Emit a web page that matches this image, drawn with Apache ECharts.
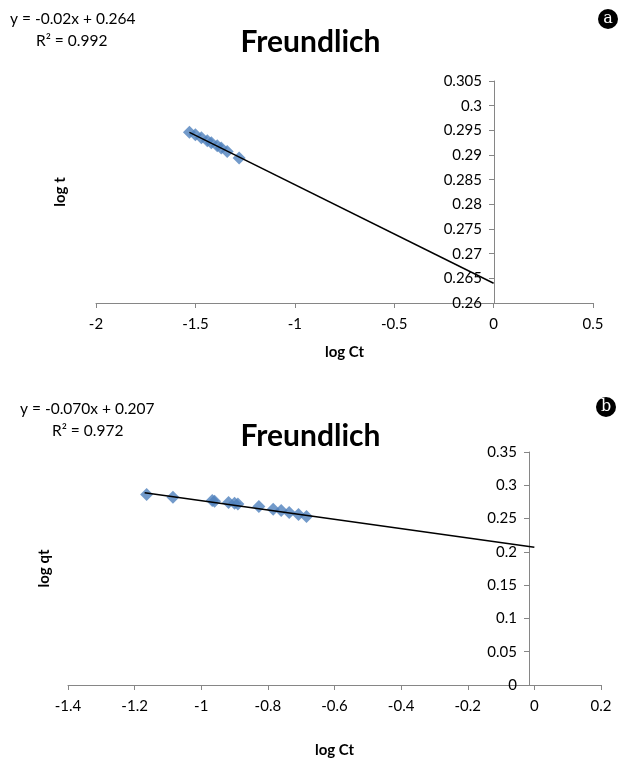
<!DOCTYPE html>
<html><head><meta charset="utf-8">
<script src="https://cdn.jsdelivr.net/npm/echarts@6/dist/echarts.min.js"></script>
<style>html,body{margin:0;padding:0;background:#fff}#c{width:621px;height:760px}</style>
</head><body><div id="c"></div>
<script>
// Chart a data
const aX = [-1.53, -1.50, -1.47, -1.44, -1.42, -1.39, -1.37, -1.34, -1.28];
const aY = [0.2946, 0.2941, 0.2935, 0.2929, 0.2925, 0.2919, 0.2914, 0.2907, 0.2894];
const aSlope = -0.02, aIntercept = 0.264;
const aTrendX = [-1.53, 0];
const aXTicks = [-2, 0.5, 0.5];   // min, max, interval
const aYTicks = [0.26, 0.305, 0.005];
// Chart b data
const bX = [-1.164, -1.085, -0.967, -0.960, -0.918, -0.900, -0.890, -0.827, -0.784, -0.760, -0.736, -0.708, -0.684];
const bY = [0.286, 0.282, 0.277, 0.276, 0.274, 0.273, 0.272, 0.268, 0.264, 0.262, 0.259, 0.256, 0.253];
const bSlope = -0.070, bIntercept = 0.207;
const bTrendX = [-1.17, 0];
const bXTicks = [-1.4, 0.2, 0.2];
const bYTicks = [0, 0.35, 0.05];

const FONT = 'Lato';
const axisGray = '#868686';
const blue = '#4F81BD';

function axisX(t, idx, gap) {
  return {
    type: 'value', gridIndex: idx, min: t[0], max: t[1], interval: t[2],
    name: 'log Ct', nameLocation: 'middle', nameGap: gap,
    nameTextStyle: {fontFamily: FONT, fontWeight: 'bold', fontSize: 15, color: '#000'},
    axisLine: {onZero: false, lineStyle: {color: axisGray, width: 1}},
    axisTick: {inside: false, length: 5, lineStyle: {color: axisGray}},
    axisLabel: {fontFamily: FONT, fontSize: 15, color: '#000', margin: 14,
      formatter: v => String(parseFloat(v.toFixed(4)))},
    splitLine: {show: false}
  };
}
function axisY(t, idx, name, gap, offset) {
  return {
    type: 'value', gridIndex: idx, min: t[0], max: t[1], interval: t[2],
    position: 'left', offset: offset,
    name: name, nameLocation: 'middle', nameGap: gap, nameRotate: 90,
    nameTextStyle: {fontFamily: FONT, fontWeight: 'bold', fontSize: 15, color: '#000'},
    axisLine: {onZero: false, lineStyle: {color: axisGray, width: 1}},
    axisTick: {inside: false, length: 5, lineStyle: {color: axisGray}},
    axisLabel: {fontFamily: FONT, fontSize: 15, color: '#000', margin: 12,
      formatter: v => String(parseFloat(v.toFixed(4)))},
    splitLine: {show: false}
  };
}
function pts(xs, ys) { return xs.map((x, i) => [x, ys[i]]); }
function trend(xs, m, c) { return xs.map(x => [x, m * x + c]); }

const chart = echarts.init(document.getElementById('c'));
chart.setOption({
  animation: false,
  title: [
    {text: 'Freundlich', left: 'center', top: 22, textStyle: {fontFamily: FONT, fontWeight: 'bold', fontSize: 30, color: '#000'}},
    {text: 'Freundlich', left: 'center', top: 416, textStyle: {fontFamily: FONT, fontWeight: 'bold', fontSize: 30, color: '#000'}}
  ],
  graphic: [
    {type: 'text', left: 10, top: 11, style: {text: 'y = -0.02x + 0.264', fontFamily: FONT, fontSize: 15.5, fill: '#000'}},
    {type: 'text', left: 36, top: 33, style: {text: 'R² = 0.992', fontFamily: FONT, fontSize: 15.5, fill: '#000'}},
    {type: 'text', left: 20, top: 401, style: {text: 'y = -0.070x + 0.207', fontFamily: FONT, fontSize: 15.5, fill: '#000'}},
    {type: 'text', left: 52, top: 423, style: {text: 'R² = 0.972', fontFamily: FONT, fontSize: 15.5, fill: '#000'}},
    {type: 'circle', shape: {cx: 608, cy: 19, r: 10}, style: {fill: '#000'}},
    {type: 'text', x: 608, y: 19, style: {text: 'a', fontFamily: 'DejaVu Serif', fontSize: 16, fill: '#fff', align: 'center', verticalAlign: 'middle'}},
    {type: 'circle', shape: {cx: 606, cy: 407, r: 10}, style: {fill: '#000'}},
    {type: 'text', x: 606, y: 407, style: {text: 'b', fontFamily: 'DejaVu Serif', fontSize: 16, fill: '#fff', align: 'center', verticalAlign: 'middle'}}
  ],
  grid: [
    {left: 96, right: 28, top: 81, height: 222, containLabel: false, outerBoundsMode: 'none'},
    {left: 68, right: 20, top: 452, height: 233, containLabel: false, outerBoundsMode: 'none'}
  ],
  xAxis: [axisX(aXTicks, 0, 42), axisX(bXTicks, 1, 58)],
  yAxis: [axisY(aYTicks, 0, 'log t', 426, -398), axisY(bYTicks, 1, 'log qt', 477, -461)],
  series: [
    {type: 'scatter', xAxisIndex: 0, yAxisIndex: 0, data: pts(aX, aY), symbol: 'diamond', symbolSize: 13, itemStyle: {color: blue}},
    {type: 'line', xAxisIndex: 0, yAxisIndex: 0, data: trend(aTrendX, aSlope, aIntercept), symbol: 'none', lineStyle: {color: '#000', width: 1.5}},
    {type: 'scatter', xAxisIndex: 1, yAxisIndex: 1, data: pts(bX, bY), symbol: 'diamond', symbolSize: 13, itemStyle: {color: blue}},
    {type: 'line', xAxisIndex: 1, yAxisIndex: 1, data: trend(bTrendX, bSlope, bIntercept), symbol: 'none', lineStyle: {color: '#000', width: 1.5}}
  ]
});
</script></body></html>
